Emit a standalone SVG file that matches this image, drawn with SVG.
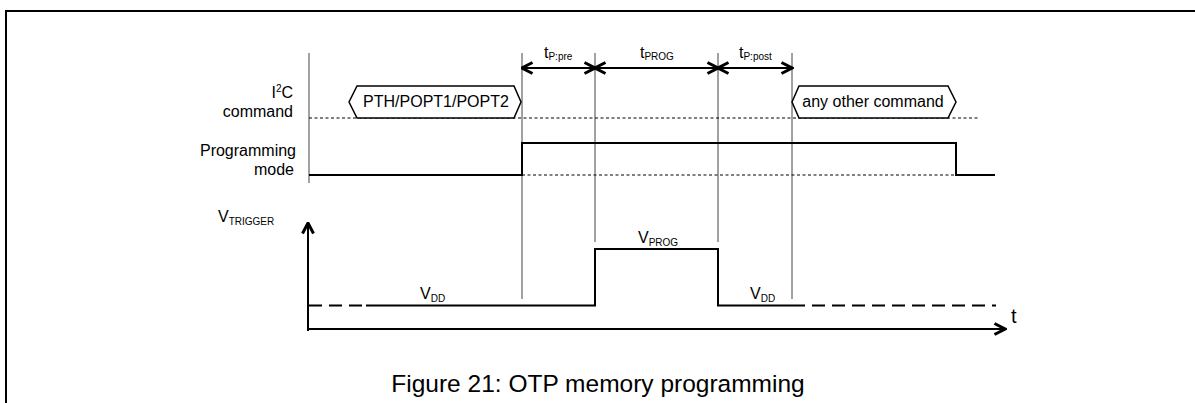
<svg xmlns="http://www.w3.org/2000/svg" width="1195" height="403" viewBox="0 0 1195 403">
<defs>
<style>
text{font-family:"Liberation Sans",Arial,sans-serif;fill:#000}
.lbl{font-size:16px}
.sub{font-size:10px}
.guide{stroke:#444;stroke-width:1;fill:none}
.dot{stroke:#000;stroke-width:1;stroke-dasharray:3,2.5;fill:none}
.sig{stroke:#000;stroke-width:2;fill:none}
.dash{stroke:#000;stroke-width:2;stroke-dasharray:13,7;fill:none}
.dim{stroke:#000;stroke-width:2;fill:none;marker-start:url(#chev);marker-end:url(#chev)}
.axis{stroke:#000;stroke-width:2;fill:none;marker-end:url(#chev)}
.hex{stroke:#000;stroke-width:1.5;fill:#fff}
</style>
<marker id="chev" viewBox="0 0 14 14" refX="12.5" refY="7" markerWidth="14" markerHeight="14" markerUnits="userSpaceOnUse" orient="auto-start-reverse">
<path d="M2,1.5 L12.5,7 L2,12.5" fill="none" stroke="#000" stroke-width="3"/>
</marker>
</defs>
<rect width="1195" height="403" fill="#fff"/>
<path d="M6,403 V11 H1195" fill="none" stroke="#000" stroke-width="2"/>

<g id="labels">
<text class="lbl" x="293" y="98" text-anchor="end">I<tspan font-size="10" dy="-6">2</tspan><tspan dy="6">C</tspan></text>
<text class="lbl" x="293" y="117" text-anchor="end">command</text>
<text class="lbl" x="296" y="156" text-anchor="end">Programming</text>
<text class="lbl" x="294" y="175" text-anchor="end">mode</text>
<text class="lbl" x="218" y="222">V<tspan class="sub" dy="3">TRIGGER</tspan></text>
<text x="1011" y="323" font-size="20">t</text>
</g>

<g id="guides">
<line class="guide" x1="309" y1="53" x2="309" y2="183" stroke="#777"/>
<line class="guide" x1="522" y1="53" x2="522" y2="299"/>
<line class="guide" x1="595" y1="53" x2="595" y2="242"/>
<line class="guide" x1="718" y1="53" x2="718" y2="242"/>
<line class="guide" x1="792" y1="53" x2="792" y2="299"/>
<line class="dot" x1="309" y1="118" x2="978" y2="118"/>
<line class="dot" x1="522" y1="175" x2="956" y2="175"/>
</g>

<g id="timing">
<line class="dim" x1="522" y1="68" x2="595" y2="68"/>
<line class="dim" x1="595" y1="68" x2="718" y2="68"/>
<line class="dim" x1="718" y1="68" x2="792" y2="68"/>
<text class="lbl" x="544" y="58">t<tspan class="sub" dy="2">P:pre</tspan></text>
<text class="lbl" x="640" y="58">t<tspan class="sub" dy="2">PROG</tspan></text>
<text class="lbl" x="739" y="58">t<tspan class="sub" dy="2">P:post</tspan></text>
</g>

<g id="cmd1">
<polygon class="hex" points="349,102 357,86 514,86 521,102 514,118 357,118"/>
<text class="lbl" x="436" y="107" text-anchor="middle">PTH/POPT1/POPT2</text>
</g>
<g id="cmd2">
<polygon class="hex" points="792,102 799,86 948,86 956,102 948,118 799,118"/>
<text class="lbl" x="873" y="107" text-anchor="middle">any other command</text>
</g>

<g id="progmode">
<path class="sig" d="M309,175 H522 V143 H956 V175 H995"/>
</g>

<g id="connectors">
<line class="axis" x1="308" y1="331" x2="308" y2="223"/>
<line class="axis" x1="307" y1="329" x2="1005" y2="329"/>
</g>

<g id="vtrigger">
<path class="dash" d="M309,305.5 H366"/>
<path class="sig" d="M366,305.5 H595 V249 H718 V305.5 H792"/>
<path class="dash" d="M792,305.5 H996"/>
<text class="lbl" x="420" y="299">V<tspan class="sub" dy="3">DD</tspan></text>
<text class="lbl" x="638" y="243">V<tspan class="sub" dy="3">PROG</tspan></text>
<text class="lbl" x="750" y="299">V<tspan class="sub" dy="3">DD</tspan></text>
</g>

<text x="598" y="392" font-size="24.5" text-anchor="middle">Figure 21: OTP memory programming</text>
</svg>
